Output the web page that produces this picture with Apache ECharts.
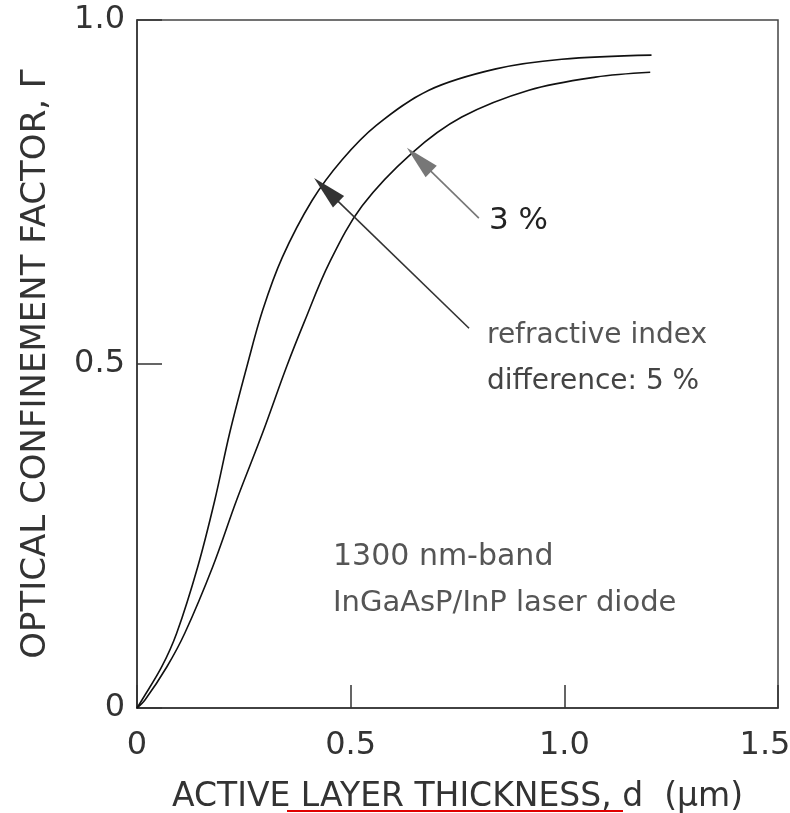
<!DOCTYPE html>
<html>
<head>
<meta charset="utf-8">
<script src="https://cdn.jsdelivr.net/npm/echarts@6/dist/echarts.min.js"></script>
<style>
html,body{margin:0;padding:0;background:#fff;}
#chart{width:790px;height:813px;}
</style>
</head>
<body>
<div id="chart"></div>
<script>
// Active layer thickness d (µm) and confinement factor Γ
const d5 = [0, 0.012, 0.058, 0.093, 0.142, 0.182, 0.217, 0.257, 0.294, 0.340, 0.410, 0.480, 0.560, 0.683, 0.840, 0.994, 1.204];
const g5 = [0, 0.012, 0.060, 0.109, 0.205, 0.302, 0.400, 0.496, 0.578, 0.655, 0.738, 0.797, 0.847, 0.898, 0.929, 0.943, 0.949];
const d3 = [0, 0.019, 0.070, 0.112, 0.177, 0.233, 0.294, 0.350, 0.392, 0.450, 0.527, 0.644, 0.760, 0.917, 1.073, 1.201];
const g3 = [0, 0.012, 0.060, 0.109, 0.205, 0.302, 0.400, 0.496, 0.562, 0.647, 0.730, 0.807, 0.859, 0.898, 0.917, 0.924];
const xTicks = ['0', '0.5', '1.0', '1.5'];
const yTicks = ['0', '0.5', '1.0'];
// annotation arrows: [tail, tip] in data coords
const arrow5 = [[0.777, 0.552], [0.443, 0.753]];
const arrow3 = [[0.800, 0.712], [0.660, 0.797]];

const FONT = '"DejaVu Sans", "Liberation Sans", Arial, sans-serif';
const pair = (xs, ys) => xs.map((x, i) => [x, ys[i]]);
const headPath = 'path://M0,0 L7,32 L-7,32 Z';

const chart = echarts.init(document.getElementById('chart'));
chart.setOption({
  animation: false,
  backgroundColor: '#fff',
  grid: { left: 137, right: 12, top: 20, bottom: 105, outerBoundsMode: 'none', containLabel: false,
          show: true, borderColor: '#444', borderWidth: 1.5, backgroundColor: 'transparent' },
  xAxis: {
    type: 'value', min: 0, max: 1.5, interval: 0.5,
    axisLine: { show: true, onZero: false, lineStyle: { color: '#333', width: 1.5 } },
    axisTick: { show: true, inside: true, length: 23, lineStyle: { color: '#333', width: 1.5 } },
    splitLine: { show: false },
    axisLabel: {
      margin: 22, fontFamily: FONT, fontSize: 32, color: '#333',
      formatter: (v) => { const i = Math.round(v / 0.5); return i === 3 ? '{r|' + xTicks[i] + '}' : xTicks[i]; },
      rich: { r: { fontFamily: FONT, fontSize: 32, color: '#333', padding: [0, 26, 0, 0] } }
    },
    name: 'ACTIVE LAYER THICKNESS, d  (\u00b5m)',
    nameLocation: 'middle', nameGap: 73,
    nameTextStyle: { fontFamily: FONT, fontSize: 33, color: '#333' }
  },
  yAxis: {
    type: 'value', min: 0, max: 1, interval: 0.5,
    axisLine: { show: true, lineStyle: { color: '#333', width: 1.5 } },
    axisTick: { show: true, inside: true, length: 25, lineStyle: { color: '#333', width: 1.5 } },
    splitLine: { show: false },
    axisLabel: { margin: 12, fontFamily: FONT, fontSize: 32, color: '#333', formatter: (v) => yTicks[Math.round(v / 0.5)] },
    name: 'OPTICAL CONFINEMENT FACTOR, \u0393',
    nameLocation: 'middle', nameGap: 84,
    nameTextStyle: { fontFamily: FONT, fontSize: 34, color: '#333' }
  },
  series: [
    {
      name: '5 %', type: 'line', smooth: 0.35, showSymbol: false,
      data: pair(d5, g5), lineStyle: { color: '#111', width: 1.6 },
      markLine: {
        silent: true, symbol: ['none', headPath], symbolSize: [16, 34],
        label: { show: false },
        lineStyle: { color: '#333', width: 1.6, type: 'solid' },
        itemStyle: { color: '#111' },
        data: [[{ coord: arrow5[0] }, { coord: arrow5[1] }]]
      }
    },
    {
      name: '3 %', type: 'line', smooth: 0.35, showSymbol: false,
      data: pair(d3, g3), lineStyle: { color: '#111', width: 1.6 },
      markLine: {
        silent: true, symbol: ['none', headPath], symbolSize: [16, 34],
        label: { show: false },
        lineStyle: { color: '#777', width: 1.6, type: 'solid' },
        itemStyle: { color: '#666' },
        data: [[{ coord: arrow3[0] }, { coord: arrow3[1] }]]
      }
    }
  ],
  graphic: [
    { type: 'text', x: 489, y: 221, style: { text: '3 %', font: '31px ' + FONT, fill: '#222', verticalAlign: 'middle' } },
    { type: 'text', x: 487, y: 336, style: { text: 'refractive index', font: '28px ' + FONT, fill: '#555', verticalAlign: 'middle' } },
    { type: 'text', x: 487, y: 382, style: { text: 'difference: 5 %', font: '28px ' + FONT, fill: '#444', verticalAlign: 'middle' } },
    { type: 'text', x: 333, y: 557, style: { text: '1300 nm-band', font: '30px ' + FONT, fill: '#555', verticalAlign: 'middle' } },
    { type: 'text', x: 333, y: 603, style: { text: 'InGaAsP/InP laser diode', font: '29px ' + FONT, fill: '#555', verticalAlign: 'middle' } },
    { type: 'line', shape: { x1: 287, y1: 811, x2: 623, y2: 811 }, style: { stroke: '#e00000', lineWidth: 2 } }
  ]
});
</script>
</body>
</html>
